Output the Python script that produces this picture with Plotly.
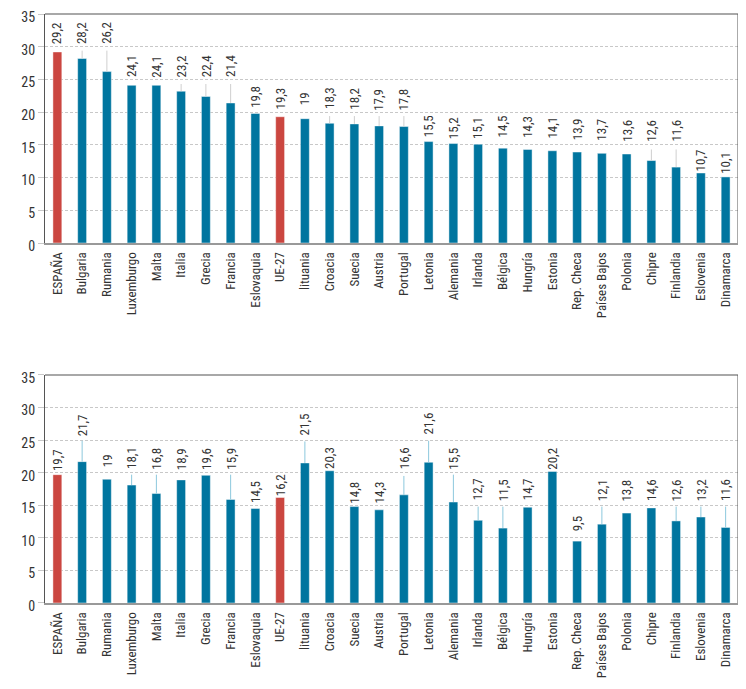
import plotly.graph_objects as go

countries = ["ESPAÑA", "Bulgaria", "Rumania", "Luxemburgo", "Malta", "Italia", "Grecia",
             "Francia", "Eslovaquia", "UE-27", "lituania", "Croacia", "Suecia", "Austria",
             "Portugal", "Letonia", "Alemania", "Irlanda", "Bélgica", "Hungría", "Estonia",
             "Rep. Checa", "Países Bajos", "Polonia", "Chipre", "Finlandia", "Eslovenia",
             "Dinamarca"]

top_values = [29.2, 28.2, 26.2, 24.1, 24.1, 23.2, 22.4, 21.4, 19.8, 19.3, 19.0, 18.3, 18.2,
              17.9, 17.8, 15.5, 15.2, 15.1, 14.5, 14.3, 14.1, 13.9, 13.7, 13.6, 12.6, 11.6,
              10.7, 10.1]
bottom_values = [19.7, 21.7, 19.0, 18.1, 16.8, 18.9, 19.6, 15.9, 14.5, 16.2, 21.5, 20.3, 14.8,
                 14.3, 16.6, 21.6, 15.5, 12.7, 11.5, 14.7, 20.2, 9.5, 12.1, 13.8, 14.6, 12.6,
                 13.2, 11.6]

# data-label centres (value units) as placed in the original
top_label_at = [32.1, 32.1, 32.1, 27.0, 27.0, 27.0, 27.0, 27.0, 22.4, 22.1, 22.1, 22.1, 22.1,
                21.9, 21.9, 17.8, 17.6, 17.6, 17.8, 17.7, 17.7, 17.4, 17.3, 17.1, 17.2, 17.2,
                12.6, 12.2]
bottom_label_at = [22.0, 27.3, 21.9, 22.2, 22.2, 22.1, 22.1, 22.1, 17.1, 18.1, 27.4, 22.2, 17.0,
                   17.0, 22.2, 27.5, 22.2, 17.5, 17.3, 17.4, 22.2, 12.1, 17.3, 17.2, 17.4, 17.3,
                   17.3, 17.3]

# leader-line ends (None = no leader line)
top_leader_end = [None, 29.4, 29.4, None, None, 24.3, 24.3, 24.3, None, None, None, 19.4, 19.4,
                  19.4, 19.4, None, None, None, None, None, None, None, None, None, 14.3, 14.3,
                  None, None]
bottom_leader_end = [None, 24.9, None, 19.7, 19.7, None, None, 19.7, None, None, 24.8, None, None,
                     None, 19.5, 24.9, 19.7, 14.8, 14.8, None, None, None, 14.8, None, None, 14.8,
                     14.8, 14.8]

highlight = ["ESPAÑA", "UE-27"]
y_ticks = [0, 5, 10, 15, 20, 25, 30, 35]

BLUE = "#00759F"
RED = "#CB4640"
FONT = "Liberation Sans Narrow, Roboto Condensed, Arial Narrow, Roboto, sans-serif"

fig = go.Figure()


def fmt(v):
    return f"{v:g}".replace(".", ",")


def add_panel(values, label_at, leader_end, xa, ya, leader_color):
    colors = [RED if c in highlight else BLUE for c in countries]
    fig.add_trace(go.Bar(x=countries, y=values, marker_color=colors, width=0.36,
                         marker_line=dict(color="rgba(255,255,255,0.45)", width=1),
                         xaxis=xa, yaxis=ya, showlegend=False, hoverinfo="x+y"))
    lx, ly = [], []
    for c, v, e in zip(countries, values, leader_end):
        if e is not None:
            lx += [c, c, None]
            ly += [v, e, None]
    fig.add_trace(go.Scatter(x=lx, y=ly, mode="lines", line=dict(color=leader_color, width=1),
                             xaxis=xa, yaxis=ya, showlegend=False, hoverinfo="skip"))
    for c, v, p in zip(countries, values, label_at):
        fig.add_annotation(x=c, y=p, xref=xa, yref=ya, text=fmt(v), textangle=-90,
                           showarrow=False, yanchor="middle", xanchor="center",
                           font=dict(family=FONT, size=13, color="#333333"))
    xd = ("x" if xa == "x" else xa) + " domain"
    yd = ("y" if ya == "y" else ya) + " domain"
    fig.add_shape(type="line", xref=xd, yref=yd, x0=0, x1=1, y0=1, y1=1,
                  line=dict(color="#A8A8A8", width=2))
    fig.add_shape(type="line", xref=xd, yref=yd, x0=1, x1=1, y0=0, y1=1,
                  line=dict(color="#555555", width=1))


add_panel(top_values, top_label_at, top_leader_end, "x", "y", "#CFCFCF")
add_panel(bottom_values, bottom_label_at, bottom_leader_end, "x2", "y2", "#8CC8DD")

xcommon = dict(type="category", range=[-0.5, len(countries) - 0.5], tickangle=-90,
               showline=True, linecolor="#999999", linewidth=2, ticks="", showgrid=False,
               automargin=False, ticklabelstandoff=2,
               tickfont=dict(family=FONT, size=13, color="#333333"))
ycommon = dict(range=[0, 35], tickvals=y_ticks, showline=True, linecolor="#555555", linewidth=1,
               showgrid=True, gridcolor="#C8C8C8", griddash="3px,2px", gridwidth=1,
               zeroline=False, ticks="outside", ticklen=6, tickcolor="#C8C8C8",
               automargin=False, ticklabeloverflow="allow", ticklabelshift=3,
               tickfont=dict(family=FONT, size=14, color="#333333"))

fig.update_layout(
    width=738, height=681,
    margin=dict(l=37, r=8, t=6, b=86),
    paper_bgcolor="white", plot_bgcolor="white",
    bargap=0.6,
    font=dict(family=FONT, color="#333333"),
    xaxis=dict(**xcommon, domain=[0, 1], anchor="y"),
    yaxis=dict(**ycommon, domain=[0.6112, 1], anchor="x"),
    xaxis2=dict(**xcommon, domain=[0, 1], anchor="y2"),
    yaxis2=dict(**ycommon, domain=[0, 0.3871], anchor="x2"),
)

fig.write_html("out.html")
